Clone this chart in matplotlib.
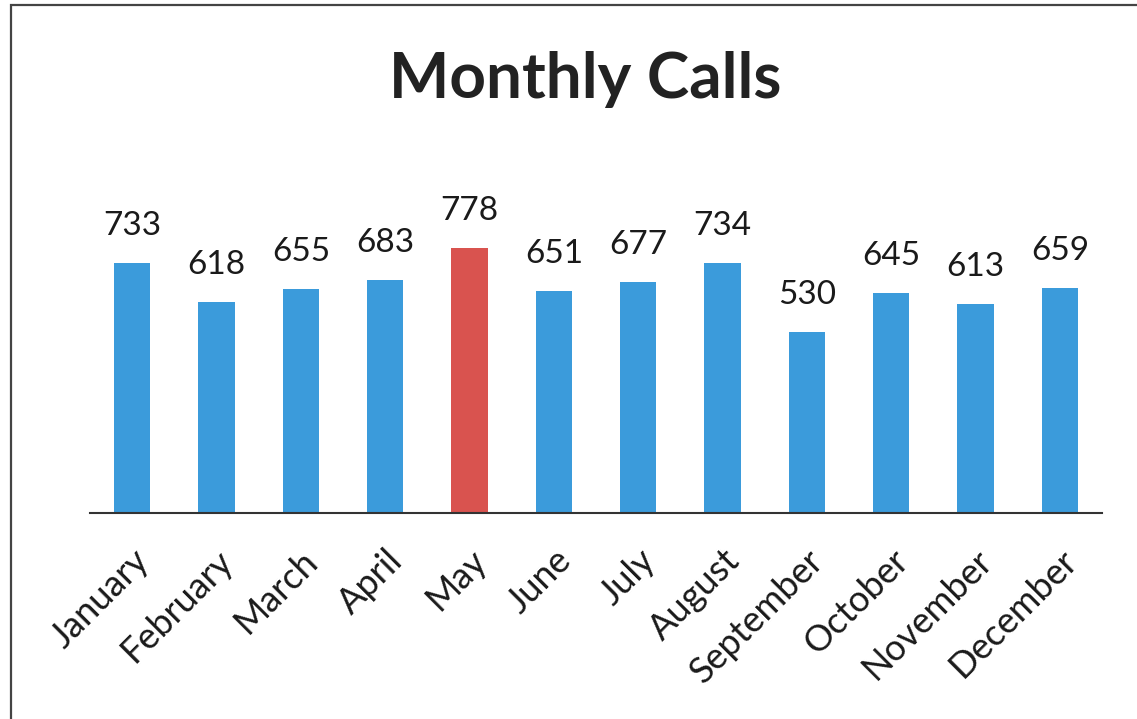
import matplotlib
matplotlib.use('Agg')
import matplotlib.pyplot as plt
import matplotlib.patches as mpatches
import numpy as np

months = ['January', 'February', 'March', 'April', 'May', 'June', 'July',
          'August', 'September', 'October', 'November', 'December']
calls = [733, 618, 655, 683, 778, 651, 677, 734, 530, 645, 613, 659]
highlight = 'May'

BLUE = '#3B9BDB'
RED = '#D9534F'
TEXT = '#1a1a1a'
FONT = ['Lato', 'DejaVu Sans']

fig = plt.figure(figsize=(11.37, 7.19), dpi=100, facecolor='white')

# scanned page border
fig.patches.append(mpatches.Rectangle((11 / 1137, -0.05), 1.2, 1 - 5 / 719 + 0.05,
                                      transform=fig.transFigure, fill=False,
                                      edgecolor='#444444', linewidth=1.6))

ax = fig.add_axes([90 / 1137, 1 - 513 / 719, (1102 - 90) / 1137, 273 / 719])
x = np.arange(len(months))
colors = [RED if m == highlight else BLUE for m in months]
ax.bar(x, calls, width=0.43, color=colors, linewidth=0)

for xi, v in zip(x, calls):
    ax.annotate(str(v), (xi, v), xytext=(0, 22), textcoords='offset pixels',
                ha='center', va='bottom', fontsize=24, color=TEXT, family=FONT)

ax.set_xlim(-0.5, len(months) - 0.5)
ax.set_ylim(0, 800)
ax.set_yticks([])
ax.set_xticks(x)
ax.set_xticklabels(months, rotation=45, ha='right', rotation_mode='anchor',
                   fontsize=26, color=TEXT, family=FONT)
ax.tick_params(axis='x', length=0, pad=22)
for s in ['top', 'right', 'left']:
    ax.spines[s].set_visible(False)
ax.spines['bottom'].set_color('#333333')
ax.spines['bottom'].set_linewidth(1.5)

fig.text(585 / 1137, 1 - 80 / 719, 'Monthly Calls', ha='center', va='center',
         fontsize=46, fontweight='bold', color='#222222', family=FONT)

fig.savefig('out.png', dpi=100, facecolor='white')
